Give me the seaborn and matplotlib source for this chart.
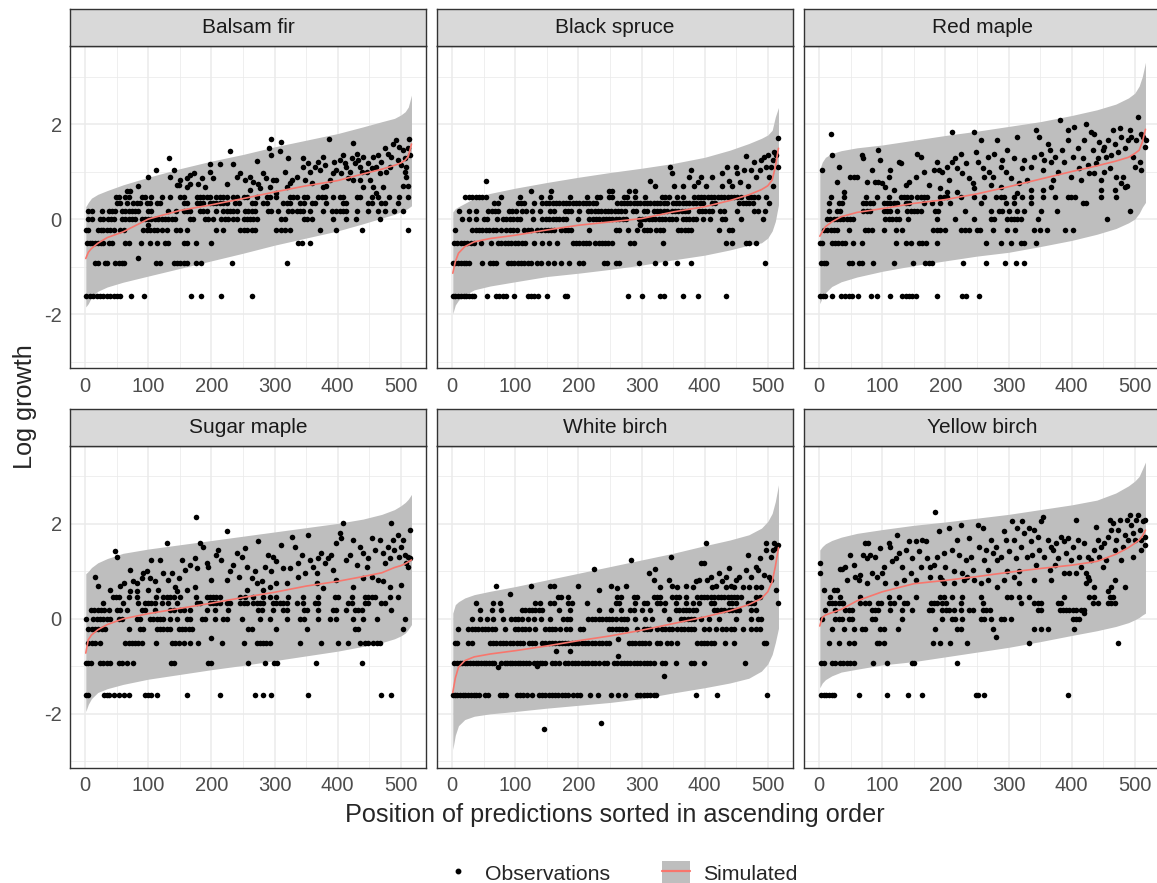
import matplotlib
matplotlib.use("Agg")
import matplotlib.pyplot as plt
from matplotlib.lines import Line2D
from matplotlib.patches import Patch
from matplotlib.legend_handler import HandlerTuple
import numpy as np
import pandas as pd
import seaborn as sns

# positions where the simulated mean and envelope were read off the picture
position_knots = [1, 5, 10, 20, 35, 60, 100, 150, 200, 250, 300, 350, 400, 440, 470, 490, 500, 507, 512, 517]

species = ["Balsam fir", "Black spruce", "Red maple", "Sugar maple", "White birch", "Yellow birch"]

# ---- Balsam fir
bf_mean = [-0.83, -0.70, -0.62, -0.51, -0.39, -0.27, 0.00, 0.18, 0.30, 0.43, 0.57, 0.70, 0.81, 0.95, 1.05, 1.13, 1.18, 1.24, 1.32, 1.58]
bf_hi = [0.26, 0.35, 0.44, 0.52, 0.60, 0.72, 0.88, 1.06, 1.22, 1.36, 1.52, 1.66, 1.80, 1.94, 2.05, 2.12, 2.19, 2.26, 2.36, 2.61]
bf_lo = [-1.85, -1.78, -1.65, -1.52, -1.43, -1.33, -1.20, -1.04, -0.88, -0.72, -0.55, -0.40, -0.25, -0.10, 0.02, 0.10, 0.15, 0.19, 0.23, 0.28]
bf_rows = [
    (-1.61, [2, 8, 13, 18, 24, 29, 34, 40, 45, 50, 55, 73, 94, 168, 183, 215, 264]),
    (-0.92, [16, 21, 31, 35, 47, 53, 58, 62, 112, 118, 140, 145, 150, 156, 161, 176, 184, 233, 320]),
    (-0.51, [3, 7, 11, 15, 20, 25, 29, 37, 42, 63, 69, 89, 103, 114, 127, 131, 156, 161, 175, 200, 338, 343, 357]),
    (-0.22, [1, 5, 20, 25, 29, 34, 40, 45, 55, 61, 92, 98, 103, 109, 114, 121, 129, 144, 150, 161, 208, 219, 245, 251,
             256, 264, 269, 303, 310, 317, 324, 372, 397, 439, 512]),
    (0.0, [5, 11, 24, 29, 36, 41, 45, 58, 63, 69, 74, 79, 90, 95, 100, 105, 111, 116, 121, 127, 132, 137, 142, 166, 171,
           190, 195, 203, 216, 222, 227, 235, 240, 251, 256, 261, 266, 272, 311, 316, 346, 352, 359, 393, 414, 429, 467]),
    (0.18, [5, 11, 26, 37, 42, 47, 58, 63, 69, 74, 79, 84, 100, 105, 132, 144, 156, 161, 166, 182, 187, 193, 208, 219,
            224, 229, 235, 240, 253, 258, 264, 269, 290, 295, 306, 322, 327, 335, 340, 345, 356, 377, 391, 397, 403, 409,
            414, 430, 448, 464, 475, 490, 504]),
    (0.34, [50, 55, 66, 76, 82, 87, 98, 103, 114, 119, 156, 161, 177, 182, 187, 198, 203, 208, 214, 219, 224, 237, 243,
            264, 269, 282, 288, 314, 319, 324, 340, 346, 359, 364, 382, 409, 414, 448, 454, 469, 475, 496]),
    (0.47, [49, 54, 63, 69, 90, 95, 105, 121, 135, 150, 156, 177, 182, 187, 193, 198, 208, 214, 219, 224, 235, 240, 251,
            256, 272, 288, 293, 303, 324, 330, 335, 346, 351, 369, 375, 380, 393, 403, 409, 430, 435, 454, 464, 482, 498, 512]),
]
bf_upper = [
    (84, -0.82), (99, -0.12), (66, 0.60), (71, 0.60), (84, 0.69), (100, 0.88), (112, 1.03), (133, 1.28), (141, 1.03),
    (148, 0.72), (134, 0.89), (150, 0.82), (161, 0.86), (166, 0.93), (172, 0.98), (179, 0.74), (185, 0.86), (190, 0.68),
    (198, 1.16), (198, 1.00), (203, 0.86), (214, 1.16), (224, 0.74), (229, 1.44), (235, 1.16), (240, 0.89), (246, 0.96),
    (253, 0.82), (261, 0.89), (266, 0.79), (272, 1.23), (274, 0.74), (282, 0.96), (287, 0.86), (291, 1.49), (294, 1.68),
    (295, 1.35), (298, 0.82), (303, 0.82), (309, 1.44), (310, 1.63), (316, 1.00), (322, 1.28), (327, 0.82), (335, 0.88),
    (345, 1.10), (348, 0.82), (356, 1.00), (364, 1.10), (369, 1.21), (377, 1.31), (387, 1.68), (388, 0.82), (393, 0.96),
    (398, 1.03), (403, 1.24), (409, 1.35), (414, 1.10), (419, 1.00), (425, 1.61), (427, 1.17), (430, 1.38), (435, 1.10),
    (440, 1.31), (446, 1.00), (451, 0.82), (456, 1.31), (461, 1.10), (467, 0.96), (472, 0.68), (475, 1.49), (480, 1.38),
    (483, 1.10), (488, 1.59), (493, 1.66), (496, 1.24), (498, 1.52), (504, 1.45), (506, 1.00), (509, 1.10), (512, 1.49),
    (513, 1.68), (514, 1.35), (509, 0.89), (512, 0.70), (435, 0.82), (440, 0.68), (456, 0.68), (461, 0.54), (377, 0.68),
    (382, 0.70), (324, 0.75), (319, 0.68), (293, 0.68), (261, 0.61), (161, 0.68), (166, 0.74), (145, 0.72), (277, 0.65),
    (303, 0.54), (359, 0.75), (425, 0.82), (417, 0.86), (504, 0.70), (345, 1.28), (353, 1.17), (372, 1.03), (380, 1.14),
    (395, 1.21), (406, 0.96), (411, 1.17), (422, 1.28), (432, 1.24), (438, 1.00), (448, 1.17), (454, 1.07), (464, 1.35),
    (469, 1.21), (477, 1.00), (485, 1.31), (501, 1.14), (506, 1.28),
]

# ---- Black spruce
bs_mean = [-1.14, -0.90, -0.72, -0.58, -0.48, -0.41, -0.34, -0.23, -0.13, -0.06, 0.01, 0.15, 0.26, 0.39, 0.51, 0.62, 0.70, 0.82, 1.10, 1.49]
bs_hi = [0.15, 0.22, 0.26, 0.33, 0.44, 0.54, 0.65, 0.77, 0.88, 0.98, 1.07, 1.17, 1.30, 1.45, 1.59, 1.70, 1.77, 1.87, 2.15, 2.35]
bs_lo = [-1.99, -1.81, -1.71, -1.60, -1.49, -1.41, -1.32, -1.21, -1.14, -1.06, -0.97, -0.86, -0.76, -0.65, -0.55, -0.50, -0.40, -0.25, -0.05, 0.30]
bs_rows = [
    (-1.61, [2, 5, 10, 14, 18, 22, 26, 31, 35, 56, 69, 75, 80, 85, 98, 120, 125, 130, 136, 151, 178, 182, 279, 301, 329,
             336, 365, 390, 434]),
    (-0.92, [1, 5, 10, 14, 18, 22, 26, 48, 60, 65, 70, 88, 93, 98, 104, 109, 114, 120, 125, 135, 140, 152, 162, 173, 185,
             201, 207, 240, 245, 260, 265, 296, 321, 337, 356, 378, 496]),
    (-0.51, [3, 8, 14, 19, 24, 30, 35, 46, 61, 73, 78, 83, 89, 94, 100, 105, 110, 116, 130, 142, 154, 166, 191, 196, 201,
             207, 212, 217, 227, 232, 237, 242, 247, 253, 282, 288, 334, 434, 444, 465, 471, 481]),
    (-0.22, [5, 32, 37, 42, 48, 53, 58, 64, 69, 78, 86, 92, 97, 102, 114, 120, 125, 135, 141, 147, 152, 157, 162, 173,
             178, 183, 189, 217, 259, 264, 279, 293, 304, 309, 314, 323, 329, 334, 358, 363, 369, 374, 379, 423, 439, 444]),
    (0.0, [15, 27, 37, 51, 56, 71, 81, 86, 92, 97, 102, 108, 128, 143, 148, 154, 159, 164, 169, 175, 180, 200, 217, 223,
           228, 233, 239, 244, 249, 254, 260, 265, 270, 276, 296, 301, 306, 312, 317, 322, 328, 333, 338, 344, 349, 354,
           365, 371, 376, 381, 387, 397, 408, 427, 432, 457, 492]),
    (0.18, [11, 27, 37, 57, 63, 68, 73, 90, 95, 101, 111, 117, 127, 139, 155, 161, 178, 183, 188, 201, 215, 220, 226, 231,
            236, 242, 247, 252, 258, 263, 268, 274, 286, 291, 304, 309, 320, 325, 330, 336, 341, 348, 353, 358, 364, 369,
            374, 391, 396, 401, 407, 412, 425, 431, 452, 479, 484, 495]),
    (0.34, [67, 72, 104, 109, 114, 130, 143, 148, 154, 159, 164, 169, 175, 180, 185, 191, 196, 201, 207, 212, 217, 223,
            228, 261, 267, 272, 277, 282, 288, 293, 298, 304, 309, 314, 320, 325, 330, 336, 341, 350, 355, 360, 366, 371,
            376, 382, 387, 392, 398, 411, 417, 455, 460, 466, 471, 476, 502]),
    (0.47, [21, 27, 32, 37, 42, 48, 53, 77, 107, 140, 155, 187, 214, 229, 235, 248, 253, 272, 277, 290, 306, 333, 338,
            343, 357, 365, 383, 389, 394, 399, 405, 410, 415, 421, 426, 431, 437, 442, 447, 452, 458, 468, 474, 479, 484, 497]),
]
bs_upper = [
    (298, -0.13), (297, -0.11), (53, 0.80), (125, 0.60), (156, 0.60), (248, 0.60), (253, 0.60), (280, 0.60), (290, 0.60),
    (314, 0.80), (322, 0.69), (345, 1.10), (348, 0.96), (351, 0.69), (365, 0.69), (378, 1.03), (375, 0.88), (383, 0.69),
    (389, 0.79), (395, 0.88), (402, 0.69), (412, 0.88), (427, 0.96), (428, 0.69), (436, 1.10), (439, 0.81), (444, 0.69),
    (449, 1.10), (452, 0.96), (456, 0.79), (463, 1.03), (466, 1.33), (468, 0.69), (473, 1.03), (479, 1.21), (481, 0.88),
    (487, 1.03), (489, 1.24), (494, 1.31), (497, 1.10), (500, 1.35), (502, 0.88), (505, 1.10), (508, 1.24), (510, 1.42),
    (513, 1.35), (516, 1.70), (517, 1.10), (509, 0.69),
]

# ---- Red maple
rm_mean = [-0.36, -0.27, -0.16, -0.06, 0.05, 0.14, 0.22, 0.33, 0.41, 0.53, 0.68, 0.84, 1.00, 1.12, 1.22, 1.30, 1.38, 1.45, 1.62, 1.89]
rm_hi = [1.05, 1.20, 1.30, 1.38, 1.44, 1.50, 1.56, 1.66, 1.76, 1.85, 1.95, 2.05, 2.18, 2.30, 2.42, 2.55, 2.65, 2.80, 3.00, 3.30]
rm_lo = [-1.78, -1.65, -1.55, -1.42, -1.32, -1.22, -1.10, -0.98, -0.88, -0.78, -0.70, -0.58, -0.45, -0.32, -0.20, -0.08, 0.00, 0.12, 0.25, 0.35]
rm_rows = [
    (-1.61, [2, 6, 10, 21, 34, 41, 47, 52, 61, 82, 91, 112, 131, 137, 142, 147, 153, 187, 227, 232, 253]),
    (-0.92, [3, 7, 11, 47, 52, 63, 68, 86, 118, 148, 168, 174, 179, 228, 265, 294, 312, 325]),
    (-0.51, [1, 5, 20, 25, 30, 36, 41, 54, 68, 121, 138, 145, 158, 163, 169, 187, 264, 288, 304, 320, 325, 343]),
    (-0.22, [8, 13, 18, 24, 29, 48, 73, 78, 84, 102, 121, 131, 181, 186, 191, 199, 224, 231, 237, 250, 255, 276, 298,
             310, 341, 350, 361, 390, 402]),
    (0.0, [12, 17, 23, 28, 33, 38, 44, 49, 54, 105, 110, 116, 121, 126, 140, 186, 216, 245, 272, 277, 298, 304, 309, 314,
           320, 346, 456]),
    (0.18, [15, 28, 33, 70, 76, 81, 102, 108, 113, 123, 139, 145, 150, 155, 161, 183, 188, 231, 272, 285, 290, 301, 314,
            324, 351, 377, 492]),
    (0.34, [15, 31, 36, 69, 75, 80, 85, 102, 108, 113, 118, 124, 137, 142, 166, 179, 192, 208, 256, 296, 309, 335, 418, 423]),
    (0.47, [19, 39, 75, 91, 110, 129, 134, 139, 145, 155, 161, 166, 171, 192, 198, 203, 224, 245, 261, 280, 288, 293, 309,
            322, 335, 354, 373, 394, 399, 405, 447, 471]),
]
rm_upper = [
    (5, 1.03), (19, 1.79), (21, 1.35), (32, 1.10), (28, 0.79), (39, 0.58), (49, 0.89), (55, 0.89), (60, 0.89), (68, 1.35),
    (70, 1.28), (76, 0.79), (84, 1.03), (89, 0.79), (94, 0.79), (94, 1.45), (97, 1.24), (100, 0.75), (105, 0.68),
    (110, 0.89), (113, 1.03), (118, 0.61), (126, 1.21), (129, 1.17), (137, 0.72), (142, 0.79), (153, 0.89), (155, 1.38),
    (161, 1.31), (166, 1.00), (174, 0.72), (182, 1.03), (187, 1.21), (190, 1.03), (195, 1.00), (203, 1.10), (206, 0.82),
    (211, 1.84), (211, 1.21), (216, 1.28), (219, 1.07), (224, 1.38), (227, 0.96), (232, 1.17), (237, 0.86), (243, 0.75),
    (245, 1.84), (248, 1.42), (251, 1.21), (256, 1.66), (259, 1.07), (261, 0.89), (267, 1.31), (269, 1.00), (275, 0.89),
    (277, 1.38), (282, 1.66), (288, 1.10), (290, 1.24), (296, 1.00), (298, 1.45), (304, 0.86), (309, 1.28), (314, 1.73),
    (317, 0.75), (322, 1.07), (325, 1.24), (330, 0.82), (335, 1.10), (341, 1.31), (343, 1.87), (349, 1.73), (351, 1.38),
    (354, 1.03), (357, 1.24), (362, 1.59), (365, 1.45), (367, 1.21), (370, 0.82), (374, 1.31), (378, 1.00), (382, 2.08),
    (384, 1.45), (388, 1.21), (394, 1.66), (394, 1.87), (399, 0.89), (402, 1.31), (404, 1.94), (410, 1.49), (412, 1.07),
    (415, 0.82), (418, 1.28), (420, 1.66), (423, 2.01), (426, 1.14), (428, 0.96), (431, 1.84), (434, 1.45), (436, 1.80),
    (439, 1.17), (441, 1.28), (444, 1.63), (447, 0.61), (449, 1.45), (452, 1.52), (455, 1.31), (457, 1.66), (460, 1.07),
    (463, 1.35), (465, 1.87), (468, 1.59), (471, 0.89), (473, 1.42), (476, 1.91), (479, 1.73), (481, 0.89), (484, 1.49),
    (487, 0.70), (489, 1.66), (492, 1.87), (494, 1.73), (497, 1.31), (500, 1.10), (502, 1.66), (505, 2.15), (508, 1.21),
    (510, 1.03), (513, 1.73), (516, 1.52), (518, 1.66), (510, 1.80), (452, 1.00), (436, 0.96), (447, 0.82), (479, 0.75),
    (484, 0.68), (468, 0.61), (367, 0.68), (354, 0.61), (314, 0.54), (335, 0.61), (288, 0.68), (272, 0.72), (245, 0.65),
    (219, 0.58), (203, 0.58), (192, 0.65),
]

# ---- Sugar maple
sm_mean = [-0.72, -0.44, -0.34, -0.23, -0.12, 0.00, 0.11, 0.22, 0.33, 0.45, 0.56, 0.69, 0.79, 0.89, 0.97, 1.08, 1.12, 1.16, 1.20, 1.24]
sm_hi = [0.95, 1.00, 1.08, 1.18, 1.27, 1.38, 1.47, 1.56, 1.65, 1.74, 1.83, 1.92, 2.01, 2.10, 2.20, 2.30, 2.38, 2.45, 2.52, 2.62]
sm_lo = [-1.95, -1.80, -1.68, -1.55, -1.47, -1.38, -1.27, -1.17, -1.07, -0.98, -0.88, -0.78, -0.68, -0.58, -0.50, -0.42, -0.36, -0.30, -0.22, -0.12]
sm_rows = [
    (-1.61, [1, 5, 30, 35, 38, 45, 53, 61, 70, 95, 100, 105, 114, 162, 214, 269, 282, 295, 353, 469, 485]),
    (-0.92, [2, 5, 9, 23, 28, 34, 40, 54, 59, 66, 76, 136, 141, 195, 199, 258, 285, 299, 304, 365, 439]),
    (-0.51, [5, 11, 16, 24, 63, 69, 74, 79, 84, 90, 112, 137, 142, 148, 156, 166, 179, 217, 251, 272, 277, 282, 287, 293,
             340, 374, 401, 417, 435, 443, 448, 456, 462, 467]),
    (-0.22, [5, 11, 16, 21, 26, 32, 70, 87, 92, 114, 119, 124, 130, 135, 148, 153, 158, 164, 169, 258, 264, 303, 352, 427,
             432, 504]),
    (0.0, [1, 13, 18, 24, 29, 34, 40, 54, 59, 82, 87, 103, 108, 114, 119, 124, 134, 145, 161, 166, 185, 190, 206, 219,
           224, 248, 277, 293, 319, 340, 346, 369, 388, 398, 425, 440, 462, 506]),
    (0.18, [9, 14, 20, 25, 30, 38, 50, 55, 66, 90, 95, 111, 134, 140, 150, 156, 166, 193, 206, 227, 274, 280, 298, 314,
            319, 346, 351, 369, 393, 398, 414, 427, 432, 438, 485]),
    (0.34, [28, 60, 84, 95, 100, 105, 111, 121, 132, 146, 177, 182, 198, 203, 208, 214, 224, 229, 245, 251, 256, 266, 272,
            277, 282, 298, 303, 309, 314, 319, 335, 345, 364, 369, 417, 422, 443, 448, 469, 475]),
    (0.47, [44, 49, 54, 69, 82, 112, 124, 129, 135, 140, 150, 176, 193, 198, 203, 208, 214, 246, 253, 266, 282, 293, 303,
            322, 345, 369, 396, 401, 422, 443, 448, 454, 459, 483, 496]),
]
sm_upper = [
    (200, -0.41), (176, 2.14), (16, 0.89), (21, 0.70), (40, 0.61), (47, 1.42), (50, 1.31), (55, 0.70), (61, 0.75),
    (71, 1.03), (76, 0.79), (82, 0.75), (90, 0.86), (92, 0.96), (98, 1.00), (103, 0.86), (105, 1.24), (111, 0.79),
    (119, 1.24), (124, 0.96), (129, 1.59), (132, 0.82), (137, 0.96), (142, 0.68), (148, 0.86), (153, 1.24), (158, 1.03),
    (166, 1.14), (174, 1.28), (177, 1.07), (182, 1.59), (187, 1.52), (193, 1.17), (195, 1.10), (200, 0.82), (208, 1.35),
    (211, 1.45), (216, 1.24), (224, 1.84), (224, 0.82), (229, 1.00), (235, 1.14), (240, 1.38), (243, 0.89), (248, 1.31),
    (253, 1.49), (256, 1.10), (264, 0.86), (269, 1.00), (274, 1.63), (280, 0.79), (285, 1.10), (290, 1.35), (295, 1.00),
    (298, 1.31), (303, 1.21), (311, 1.56), (314, 1.07), (319, 0.75), (324, 1.07), (327, 1.73), (332, 1.52), (338, 1.17),
    (343, 1.35), (348, 0.96), (353, 1.77), (356, 1.24), (361, 1.10), (367, 0.96), (369, 1.28), (374, 1.38), (380, 1.17),
    (385, 1.28), (390, 1.35), (393, 1.03), (398, 1.59), (403, 1.80), (406, 1.70), (409, 2.01), (414, 1.24), (419, 1.35),
    (425, 1.66), (430, 1.14), (435, 1.52), (440, 1.38), (446, 1.10), (448, 1.28), (454, 1.70), (459, 1.45), (464, 0.82),
    (467, 1.66), (472, 1.38), (475, 1.17), (480, 1.52), (485, 2.01), (488, 1.66), (490, 1.45), (496, 1.77), (498, 1.31),
    (501, 1.52), (506, 1.35), (509, 1.17), (512, 1.10), (514, 1.87), (514, 1.28), (501, 0.72), (483, 0.68), (472, 0.79),
    (454, 0.89), (440, 0.86), (425, 0.68), (398, 0.82), (377, 0.65), (367, 0.75), (338, 0.89), (303, 0.75), (293, 0.68),
    (282, 0.61), (272, 0.75), (256, 0.61), (174, 0.68), (161, 0.61), (145, 0.58), (116, 0.61), (100, 0.61), (82, 0.58),
    (71, 0.58), (483, 1.28), (504, 1.66), (512, 1.31),
]

# ---- White birch
wb_mean = [-1.55, -1.25, -1.02, -0.88, -0.80, -0.74, -0.67, -0.57, -0.46, -0.36, -0.24, -0.10, 0.04, 0.17, 0.30, 0.43, 0.57, 0.78, 1.10, 1.50]
wb_hi = [0.12, 0.30, 0.36, 0.44, 0.51, 0.58, 0.68, 0.82, 0.96, 1.10, 1.24, 1.38, 1.54, 1.66, 1.77, 1.91, 2.05, 2.22, 2.47, 2.82]
wb_lo = [-2.75, -2.45, -2.25, -2.12, -2.05, -2.00, -1.95, -1.88, -1.82, -1.76, -1.68, -1.56, -1.45, -1.35, -1.25, -1.10, -0.95, -0.75, -0.50, -0.20]
wb_rows = [
    (-1.61, [1, 4, 8, 13, 17, 21, 25, 30, 34, 38, 42, 52, 57, 76, 81, 86, 102, 107, 113, 118, 126, 137, 142, 147, 153,
             158, 163, 168, 174, 179, 184, 192, 198, 203, 219, 231, 251, 263, 274, 293, 298, 304, 309, 314, 320, 323,
             387, 420, 499]),
    (-0.92, [3, 7, 12, 16, 20, 24, 29, 33, 37, 41, 46, 50, 54, 58, 63, 67, 78, 83, 87, 91, 95, 100, 104, 108, 112, 117,
             121, 130, 135, 139, 143, 147, 158, 163, 169, 179, 184, 190, 195, 200, 205, 211, 216, 222, 227, 232, 240, 245,
             256, 261, 267, 272, 277, 282, 288, 293, 298, 304, 309, 314, 320, 333, 338, 354, 378, 383, 399, 464]),
    (-0.51, [4, 8, 25, 31, 60, 65, 70, 76, 81, 86, 92, 97, 102, 108, 113, 121, 126, 131, 142, 147, 153, 158, 163, 169,
             174, 179, 184, 190, 195, 200, 205, 211, 216, 222, 227, 232, 237, 243, 248, 280, 285, 290, 296, 301, 306, 312,
             325, 330, 341, 346, 357, 388, 394, 399, 404, 410, 415, 432, 447, 494, 497]),
    (-0.22, [10, 25, 31, 36, 41, 47, 52, 57, 63, 68, 84, 100, 105, 110, 116, 121, 131, 147, 153, 158, 163, 171, 180, 186,
             203, 208, 248, 253, 259, 264, 269, 275, 293, 304, 309, 314, 325, 333, 338, 343, 349, 357, 362, 367, 373, 378,
             383, 399, 407, 418, 428, 434, 441, 447, 460, 473, 481, 487]),
    (0.0, [31, 44, 55, 64, 81, 94, 100, 105, 111, 120, 129, 141, 155, 176, 182, 187, 216, 222, 227, 232, 237, 243, 248,
           253, 259, 267, 272, 277, 290, 306, 317, 343, 362, 367, 373, 378, 383, 395, 407, 423, 449, 473, 484, 489]),
    (0.18, [44, 63, 78, 110, 116, 121, 126, 131, 137, 142, 169, 187, 232, 251, 267, 282, 288, 301, 314, 335, 354, 359,
            365, 370, 375, 381, 386, 415, 420, 426, 431, 439, 444, 450, 455, 473, 481]),
    (0.34, [37, 65, 76, 131, 139, 155, 161, 184, 190, 214, 259, 264, 290, 304, 309, 325, 330, 338, 354, 370, 381, 391,
            410, 415, 439, 444, 450, 468, 473, 479, 516]),
    (0.47, [167, 173, 184, 261, 267, 288, 293, 320, 325, 330, 349, 354, 359, 370, 388, 394, 399, 404, 410, 415, 421, 426,
            431, 437, 442, 447, 452, 458, 481, 487]),
]
wb_upper = [
    (145, -2.31), (236, -2.20), (73, -1.02), (134, -1.00), (263, -0.78), (335, -1.20), (263, -0.43), (165, -0.67),
    (187, -0.67), (70, 0.70), (92, 0.53), (125, 0.70), (155, 0.70), (161, 0.70), (200, 0.70), (224, 1.05), (232, 0.60),
    (251, 0.70), (261, 0.65), (275, 0.70), (284, 1.24), (312, 0.96), (321, 1.05), (320, 0.81), (346, 1.30), (343, 0.81),
    (349, 0.70), (370, 0.70), (386, 0.79), (394, 1.17), (399, 1.17), (402, 1.59), (391, 0.81), (404, 0.81), (410, 0.89),
    (418, 0.70), (423, 0.96), (428, 0.79), (434, 0.89), (439, 1.07), (441, 0.70), (449, 0.82), (455, 0.89), (460, 0.68),
    (468, 1.35), (471, 0.68), (473, 0.89), (481, 1.10), (484, 1.03), (487, 1.28), (489, 0.68), (494, 0.93), (497, 1.59),
    (497, 1.45), (502, 0.89), (505, 1.31), (508, 1.45), (510, 1.59), (513, 1.49), (516, 1.56), (513, 0.61), (505, 0.82),
    (481, 0.68), (465, 1.03), (447, 0.68), (434, 0.68), (412, 0.68), (381, 0.68), (357, 0.68), (330, 0.68),
]

# ---- Yellow birch
yb_mean = [-0.15, 0.03, 0.08, 0.13, 0.20, 0.38, 0.57, 0.74, 0.81, 0.89, 0.98, 1.06, 1.13, 1.21, 1.36, 1.50, 1.59, 1.66, 1.74, 1.87]
yb_hi = [1.45, 1.52, 1.58, 1.65, 1.72, 1.80, 1.88, 1.97, 2.04, 2.12, 2.20, 2.30, 2.40, 2.50, 2.65, 2.80, 2.90, 3.00, 3.15, 3.30]
yb_lo = [-1.45, -1.35, -1.28, -1.20, -1.12, -1.06, -0.97, -0.90, -0.80, -0.70, -0.60, -0.48, -0.35, -0.25, -0.16, -0.08, -0.02, 0.03, 0.08, 0.12]
yb_rows = [
    (-1.61, [3, 7, 11, 15, 20, 24, 63, 108, 140, 163, 248, 252, 261, 394]),
    (-0.92, [3, 7, 20, 25, 33, 38, 44, 49, 55, 85, 108, 147, 151, 218]),
    (-0.51, [16, 31, 47, 55, 92, 95, 102, 181, 192, 207, 234, 332, 473]),
    (-0.22, [20, 39, 55, 68, 73, 97, 102, 125, 184, 219, 224, 276, 341, 351, 362, 404]),
    (0.0, [4, 25, 31, 36, 47, 52, 84, 89, 131, 195, 211, 216, 227, 256, 261, 272, 288, 293, 304, 402, 407, 412]),
    (0.18, [10, 25, 41, 47, 52, 84, 89, 94, 113, 131, 147, 174, 179, 195, 201, 206, 214, 224, 237, 243, 259, 265, 270,
            346, 351, 381, 386, 391, 396, 402, 407, 415, 420]),
    (0.34, [15, 20, 25, 31, 36, 38, 65, 73, 79, 93, 98, 113, 118, 134, 139, 177, 182, 187, 195, 201, 224, 259, 320, 341,
            346, 351, 378, 383, 434, 441, 457, 463, 468]),
    (0.47, [17, 33, 65, 110, 126, 153, 192, 198, 211, 227, 256, 298, 304, 317, 333, 388, 428, 435, 460, 466]),
]
yb_upper = [
    (280, -0.39), (420, 0.13), (2, 1.17), (2, 0.96), (7, 0.61), (33, 1.05), (36, 1.05), (41, 1.10), (49, 1.35), (55, 1.14),
    (57, 0.89), (63, 0.82), (65, 0.93), (70, 1.35), (73, 1.59), (76, 1.28), (78, 1.59), (81, 1.35), (84, 0.96), (89, 1.31),
    (92, 0.89), (97, 1.49), (100, 0.96), (102, 1.10), (110, 1.59), (113, 1.52), (116, 1.21), (121, 1.28), (123, 1.77),
    (126, 1.38), (131, 1.10), (137, 1.45), (142, 1.63), (145, 0.96), (147, 1.28), (153, 1.63), (158, 1.42), (161, 1.10),
    (163, 1.66), (169, 1.63), (171, 1.28), (176, 1.10), (182, 1.14), (184, 2.24), (187, 1.31), (190, 1.84), (192, 0.89),
    (195, 0.82), (198, 1.38), (200, 1.10), (206, 1.91), (211, 1.45), (214, 1.00), (219, 1.66), (221, 1.35), (224, 1.98),
    (227, 0.96), (229, 0.82), (232, 1.24), (237, 1.70), (240, 1.31), (243, 1.03), (245, 0.82), (251, 1.98), (253, 1.52),
    (259, 1.91), (261, 1.24), (264, 1.45), (267, 1.03), (272, 1.66), (275, 1.38), (280, 1.52), (282, 1.24), (288, 1.31),
    (293, 1.84), (296, 1.66), (298, 1.00), (301, 1.42), (306, 2.05), (309, 1.66), (312, 1.28), (314, 1.91), (317, 1.00),
    (320, 1.52), (322, 2.05), (325, 1.80), (330, 1.31), (333, 1.91), (335, 1.63), (338, 1.35), (341, 1.87), (343, 1.14),
    (346, 1.73), (349, 1.45), (351, 2.05), (354, 2.15), (357, 1.31), (362, 1.66), (365, 1.03), (367, 1.52), (370, 1.45),
    (373, 1.14), (375, 1.59), (378, 1.28), (383, 1.73), (388, 1.63), (391, 1.38), (394, 1.70), (396, 0.96), (399, 1.24),
    (402, 1.52), (407, 2.08), (410, 1.66), (412, 1.31), (415, 1.10), (420, 1.59), (423, 0.96), (426, 1.31), (428, 0.82),
    (431, 1.24), (436, 1.45), (439, 1.94), (441, 1.66), (444, 1.31), (447, 1.52), (449, 1.10), (452, 1.59), (455, 1.24),
    (457, 1.73), (460, 2.08), (463, 1.87), (465, 2.01), (468, 1.45), (471, 1.66), (473, 1.87), (476, 2.08), (479, 1.24),
    (481, 1.52), (484, 1.77), (487, 2.08), (489, 1.66), (492, 2.19), (494, 1.98), (497, 1.80), (500, 1.66), (502, 2.08),
    (505, 2.19), (508, 1.87), (510, 1.45), (513, 2.05), (516, 2.08), (516, 1.73), (516, 1.56), (510, 1.66), (497, 1.31),
    (484, 0.68), (463, 0.68), (468, 0.82), (457, 0.58), (436, 0.68), (426, 0.89), (423, 0.75), (407, 0.96), (388, 0.96),
    (367, 0.82), (341, 0.82), (317, 0.75), (309, 0.89), (293, 0.82), (282, 0.68), (267, 0.82), (256, 0.75), (235, 0.89),
    (214, 0.75), (198, 0.75), (176, 0.89), (153, 0.82), (134, 0.82), (121, 0.75), (105, 0.75), (76, 0.75), (44, 0.82),
    (28, 0.61), (23, 0.61),
]

panels = [
    (bf_rows, bf_upper, bf_mean, bf_lo, bf_hi),
    (bs_rows, bs_upper, bs_mean, bs_lo, bs_hi),
    (rm_rows, rm_upper, rm_mean, rm_lo, rm_hi),
    (sm_rows, sm_upper, sm_mean, sm_lo, sm_hi),
    (wb_rows, wb_upper, wb_mean, wb_lo, wb_hi),
    (yb_rows, yb_upper, yb_mean, yb_lo, yb_hi),
]


def obs_frame(rows, upper):
    xs, ys = [], []
    for level, positions in rows:
        xs += positions
        ys += [level] * len(positions)
    for x, y in upper:
        xs.append(x)
        ys.append(y)
    return pd.DataFrame({"position": xs, "log_growth": ys})


sns.set_theme(style="white")
plt.rcParams["font.family"] = ["Liberation Sans", "DejaVu Sans"]
plt.rcParams["axes.unicode_minus"] = False

BAND = "#BEBEBE"
RED = "#F8766D"
DARK = "#333333"

W, H = 1157, 883
fig = plt.figure(figsize=(W / 100, H / 100), dpi=100)


def frac(x0, y0, w, h):
    return [x0 / W, 1 - (y0 + h) / H, w / W, h / H]


col_x = [70, 437, 804]
row_top = [45.7, 445.5]
pw, ph, sh = 356, 322.5, 36.4

for i, (name, (rows, upper, mean, lo, hi)) in enumerate(zip(species, panels)):
    r, c = divmod(i, 3)
    ax = fig.add_axes(frac(col_x[c], row_top[r], pw, ph))
    ax.fill_between(position_knots, lo, hi, color=BAND, lw=0, zorder=1)
    obs = obs_frame(rows, upper)
    sns.scatterplot(data=obs, x="position", y="log_growth", ax=ax, color="black",
                    s=16, linewidth=0, legend=False, zorder=2)
    sns.lineplot(x=position_knots, y=mean, ax=ax, color=RED, lw=1.2, legend=False, zorder=3)

    ax.set_xlim(-24, 540)
    ax.set_ylim(-3.14, 3.65)
    ax.set_xticks([0, 100, 200, 300, 400, 500])
    ax.set_xticks([50, 150, 250, 350, 450], minor=True)
    ax.set_yticks([-2, 0, 2])
    ax.set_yticks([-3, -1, 1, 3], minor=True)
    ax.grid(which="major", color="#EBEBEB", lw=1.1)
    ax.grid(which="minor", color="#EBEBEB", lw=0.55)
    ax.set_axisbelow(True)
    ax.set_xlabel("")
    ax.set_ylabel("")
    for sp in ax.spines.values():
        sp.set_color(DARK)
        sp.set_linewidth(1.0)
    ax.tick_params(which="major", direction="out", length=3.5, width=0.9, color=DARK,
                   labelcolor="#4D4D4D", labelsize=14.5, pad=2.5)
    ax.tick_params(which="minor", length=0)
    if c > 0:
        ax.tick_params(axis="y", left=False, labelleft=False)

    sax = fig.add_axes(frac(col_x[c], row_top[r] - sh, pw, sh))
    sax.set_facecolor("#D9D9D9")
    sax.set_xticks([])
    sax.set_yticks([])
    for sp in sax.spines.values():
        sp.set_color(DARK)
        sp.set_linewidth(1.0)
    sax.text(0.5, 0.5, name, ha="center", va="center", fontsize=15, color="#1A1A1A",
             transform=sax.transAxes)

fig.text(25 / W, 1 - 407 / H, "Log growth", rotation=90, ha="center", va="center", fontsize=18.2)
fig.text(615 / W, 1 - 815 / H, "Position of predictions sorted in ascending order",
         ha="center", va="center", fontsize=18.2)

dot = Line2D([], [], marker="o", color="black", ls="", markersize=3.2)
box = Patch(facecolor=BAND, edgecolor="none")
red = Line2D([], [], color=RED, lw=1.6)
fig.legend(handles=[dot, (box, red)], labels=["Observations", "Simulated"],
           handler_map={tuple: HandlerTuple(ndivide=1, pad=0)},
           loc="center", bbox_to_anchor=(621 / W, 1 - 873 / H), ncol=2, frameon=False,
           fontsize=15.3, handlelength=1.32, handleheight=1.32, handletextpad=0.6, columnspacing=2.45)

fig.savefig("out.png", dpi=100)
